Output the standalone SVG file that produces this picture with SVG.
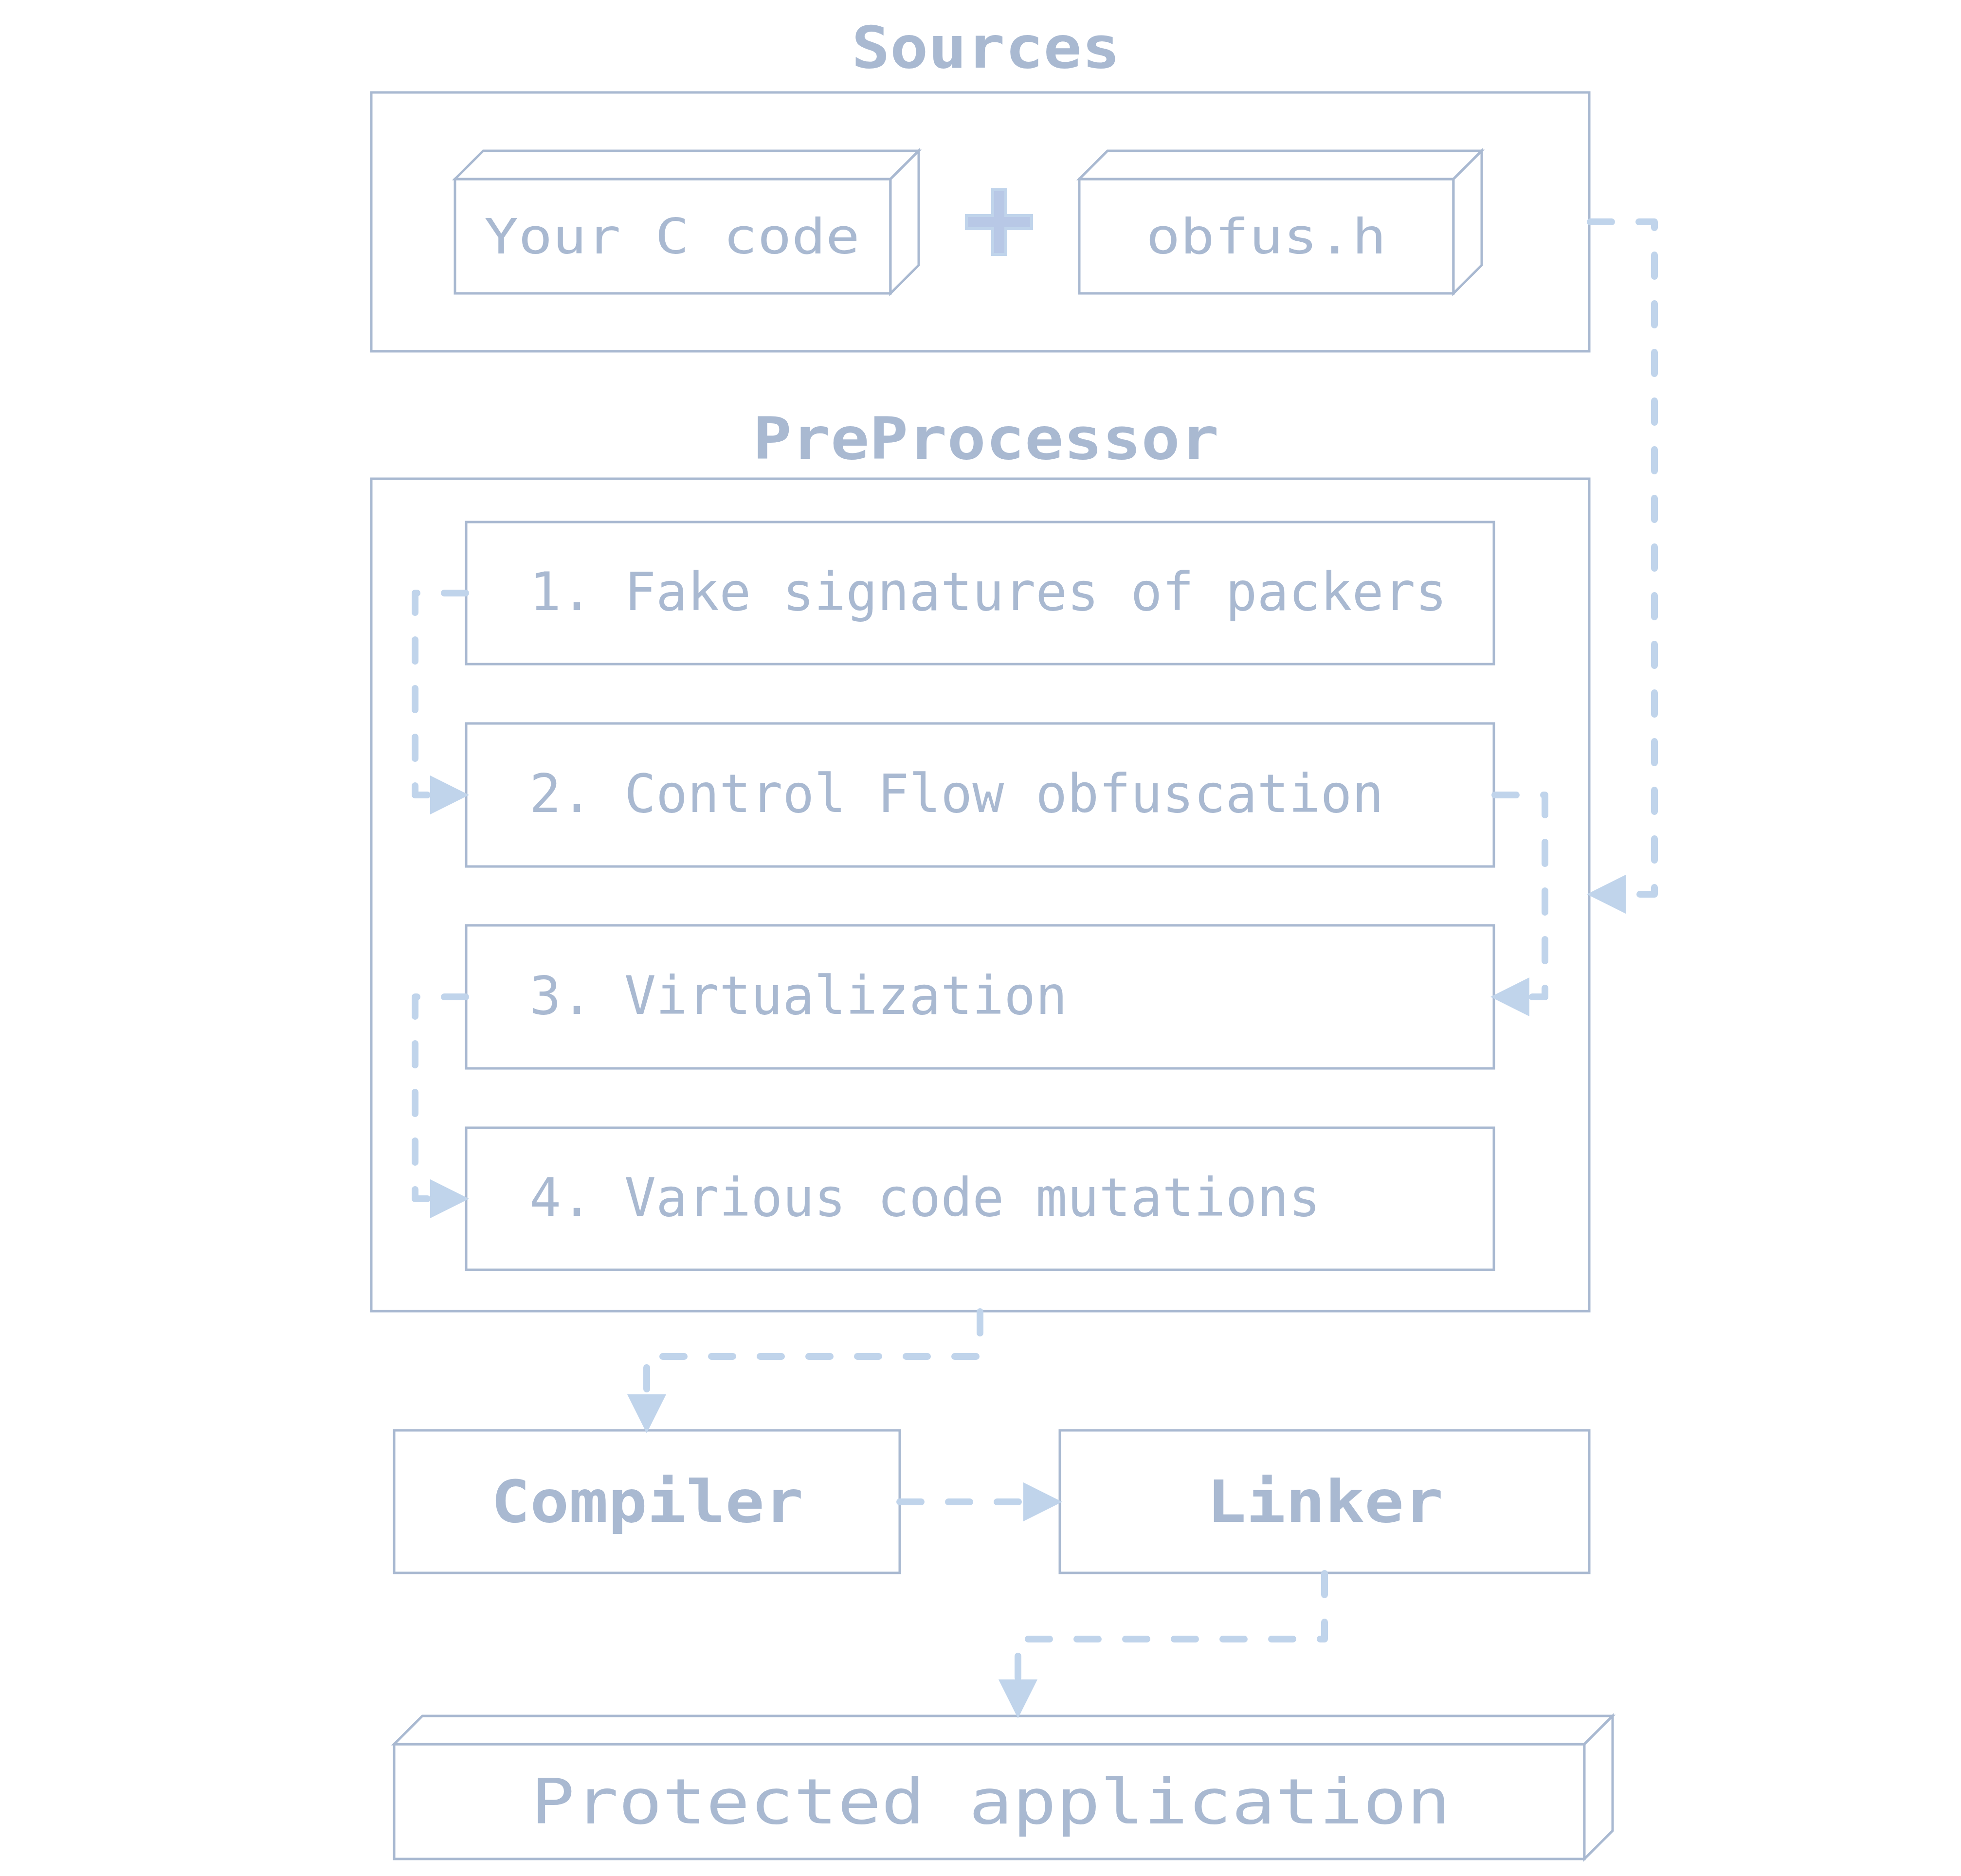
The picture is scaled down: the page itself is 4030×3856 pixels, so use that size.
<svg xmlns="http://www.w3.org/2000/svg" width="4030" height="3856" viewBox="0 0 4030 3856">
<style>
.box{fill:#ffffff;stroke:#a9b9d1;stroke-width:5}
.t{font-family:"DejaVu Sans Mono","Liberation Mono",monospace;fill:#a9b9d1}
.b{font-weight:bold}
.c{fill:none;stroke:#c0d4eb;stroke-width:14;stroke-linecap:round;stroke-linejoin:round;stroke-dasharray:44 56}
</style>
<defs>
<marker id="ah" markerUnits="userSpaceOnUse" markerWidth="80" markerHeight="80" viewBox="0 0 74 74" refX="0" refY="37" orient="auto">
<path d="M0,0 L74,37 L0,74 Z" fill="#c0d4eb"/>
</marker>
</defs>
<rect width="4030" height="3856" fill="#ffffff"/>

<g id="sources">
<text class="t b" x="2026" y="139" font-size="120" text-anchor="middle" textLength="552" lengthAdjust="spacingAndGlyphs">Sources</text>
<rect class="box" x="763" y="190" width="2503" height="532"/>
</g>

<g id="your-c-code">
<rect class="box" x="935" y="368" width="895" height="235"/>
<path class="box" d="M935,368 L993,310 L1888,310 L1830,368 Z"/>
<path class="box" d="M1830,368 L1888,310 L1888,545 L1830,603 Z"/>
<text class="t" x="1381" y="521" font-size="100" text-anchor="middle" textLength="772" lengthAdjust="spacingAndGlyphs">Your C code</text>
</g>

<g id="plus">
<path d="M2040,390 H2067 V443 H2120 V470 H2067 V523 H2040 V470 H1986 V443 H2040 Z" fill="#b8c8e6" stroke="#c0d4eb" stroke-width="6"/>
</g>

<g id="obfus-h">
<rect class="box" x="2218" y="368" width="769" height="235"/>
<path class="box" d="M2218,368 L2276,310 L3045,310 L2987,368 Z"/>
<path class="box" d="M2987,368 L3045,310 L3045,545 L2987,603 Z"/>
<text class="t" x="2602" y="521" font-size="100" text-anchor="middle" textLength="494" lengthAdjust="spacingAndGlyphs">obfus.h</text>
</g>

<g id="preprocessor">
<text class="t b" x="2026" y="943" font-size="120" text-anchor="middle" textLength="958" lengthAdjust="spacingAndGlyphs">PreProcessor</text>
<rect class="box" x="763" y="984" width="2503" height="1711"/>
</g>

<g id="step1">
<rect class="box" x="958" y="1073" width="2112" height="292"/>
<text class="t" x="1088" y="1254" font-size="108">1. Fake signatures of packers</text>
</g>
<g id="step2">
<rect class="box" x="958" y="1487" width="2112" height="294"/>
<text class="t" x="1088" y="1669" font-size="108">2. Control Flow obfuscation</text>
</g>
<g id="step3">
<rect class="box" x="958" y="1902" width="2112" height="294"/>
<text class="t" x="1088" y="2084" font-size="108">3. Virtualization</text>
</g>
<g id="step4">
<rect class="box" x="958" y="2318" width="2112" height="292"/>
<text class="t" x="1088" y="2499" font-size="108">4. Various code mutations</text>
</g>

<g id="compiler">
<rect class="box" x="810" y="2940" width="1039" height="293"/>
<text class="t b" x="1330" y="3128" font-size="119" text-anchor="middle" textLength="642" lengthAdjust="spacingAndGlyphs">Compiler</text>
</g>

<g id="linker">
<rect class="box" x="2178" y="2940" width="1088" height="293"/>
<text class="t b" x="2723" y="3128" font-size="119" text-anchor="middle" textLength="486" lengthAdjust="spacingAndGlyphs">Linker</text>
</g>

<g id="protected-application">
<rect class="box" x="810" y="3585" width="2446" height="236"/>
<path class="box" d="M810,3585 L868,3527 L3314,3527 L3256,3585 Z"/>
<path class="box" d="M3256,3585 L3314,3527 L3314,3763 L3256,3821 Z"/>
<text class="t" x="2036" y="3748" font-size="129" text-anchor="middle" textLength="1890" lengthAdjust="spacingAndGlyphs">Protected application</text>
</g>

<g id="connectors">
<path class="c" d="M3268,456 H3400 V1838 H3341" marker-end="url(#ah)"/>
<path class="c" d="M957,1219 H853 V1634 H884" marker-end="url(#ah)"/>
<path class="c" d="M3072,1634 H3175 V2049 H3143" marker-end="url(#ah)"/>
<path class="c" d="M957,2049 H853 V2464 H884" marker-end="url(#ah)"/>
<path class="c" d="M2014,2696 V2788 H1329 V2866" marker-end="url(#ah)"/>
<path class="c" d="M1849,3087 H2103" marker-end="url(#ah)"/>
<path class="c" d="M2722,3234 V3369 H2092 V3452" marker-end="url(#ah)"/>
</g>
</svg>
